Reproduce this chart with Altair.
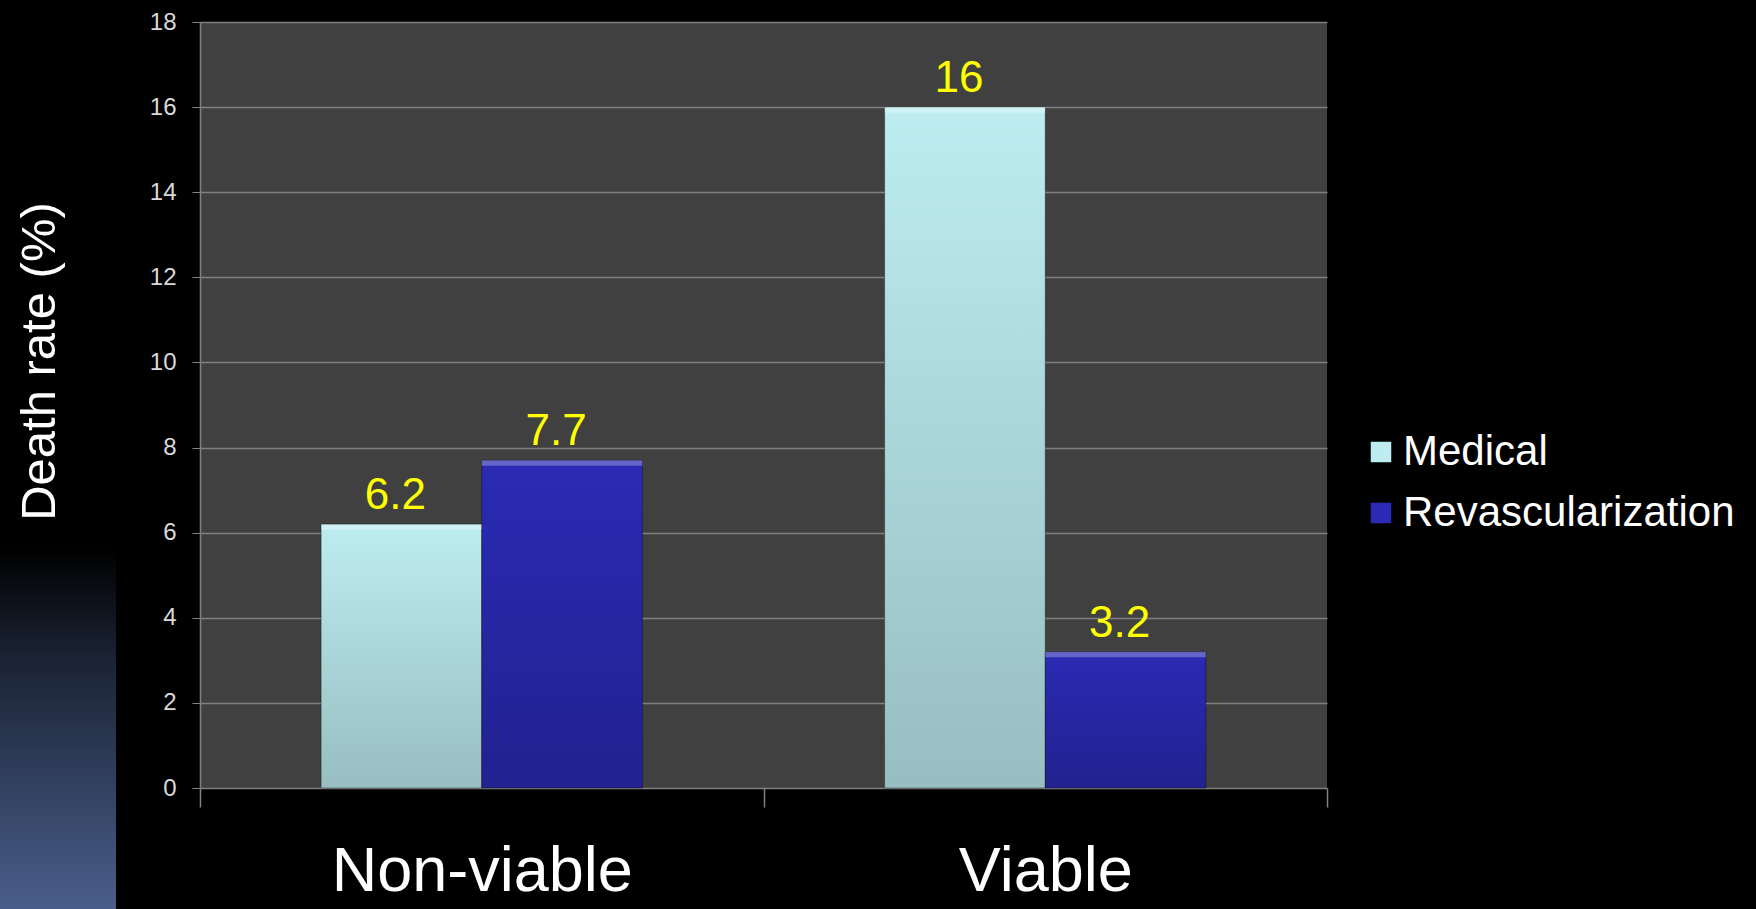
import altair as alt
import pandas as pd

categories = ["Non-viable", "Viable"]
groups = ["Medical", "Revascularization"]
medical = [6.2, 16]
revasc = [7.7, 3.2]
y_ticks = [0, 2, 4, 6, 8, 10, 12, 14, 16, 18]
group_colors = ["#bdedf0", "#2a2ab4"]

rows = []
for i, c in enumerate(categories):
    rows.append({"category": c, "group": groups[0], "value": medical[i]})
    rows.append({"category": c, "group": groups[1], "value": revasc[i]})
df = pd.DataFrame(rows)

FONT = "Liberation Sans"

x_enc = alt.X(
    "category:N",
    sort=categories,
    scale=alt.Scale(paddingInner=0, paddingOuter=0),
    axis=alt.Axis(
        title=None,
        labelFontSize=63,
        labelColor="#ffffff",
        labelFont=FONT,
        labelPadding=33,
        labelLimit=0,
        tickSize=19,
        tickColor="#808080",
        tickWidth=1.5,
        tickBand="extent",
        domain=False,
        labelAngle=0,
    ),
)
xoff = alt.XOffset(
    "group:N", sort=groups, scale=alt.Scale(paddingInner=0, paddingOuter=0.754)
)
y_enc = alt.Y(
    "value:Q",
    scale=alt.Scale(domain=[0, 18], nice=False),
    axis=alt.Axis(
        values=y_ticks,
        title="Death rate (%)",
        titleFontSize=49,
        titleFont=FONT,
        titleFontWeight="normal",
        titleColor="#ffffff",
        titleAngle=-90,
        titleX=-161,
        titleY=339,
        titleAlign="center",
        titleBaseline="middle",
        labelFontSize=24,
        labelFont=FONT,
        labelColor="#d9d9d9",
        labelPadding=16,
        tickSize=8,
        tickColor="#808080",
        domainColor="#808080",
        domainWidth=1.5,
        gridColor="#808080",
        gridWidth=1.5,
    ),
)

base = alt.Chart(df)

bars = base.mark_bar(stroke="#000000", strokeOpacity=0.35, strokeWidth=1).encode(
    x=x_enc,
    xOffset=xoff,
    y=y_enc,
    color=alt.Color(
        "group:N",
        sort=groups,
        scale=alt.Scale(domain=groups, range=group_colors),
        legend=alt.Legend(
            title=None,
            orient="none",
            legendX=1160,
            legendY=409,
            symbolType="square",
            symbolSize=420,
            symbolStrokeWidth=0,
            labelFontSize=42,
            labelFont=FONT,
            labelColor="#ffffff",
            labelOffset=1,
            labelLimit=0,
            rowPadding=19,
            padding=0,
        ),
    ),
)

shade = base.mark_bar(
    fill=alt.Gradient(
        gradient="linear",
        stops=[
            alt.GradientStop(color="rgba(0,0,0,0)", offset=0),
            alt.GradientStop(color="rgba(0,0,0,0.2)", offset=1),
        ],
        x1=0, y1=0, x2=0, y2=1,
    )
).encode(x="category:N", xOffset="group:N", y="value:Q")

highlight = base.transform_calculate(
    top2="datum.value - 0.13"
).mark_rect(fill="#ffffff", fillOpacity=0.28).encode(
    x="category:N", xOffset="group:N", y="value:Q", y2="top2:Q"
)

labels = base.mark_text(
    dy=-15, dx=-6, baseline="alphabetic", fontSize=44, font=FONT, color="#ffff00"
).encode(x="category:N", xOffset="group:N", y="value:Q", text=alt.Text("value:Q"))

strip = alt.Chart(pd.DataFrame({"a": [0]})).mark_rect(
    fill=alt.Gradient(
        gradient="linear",
        stops=[
            alt.GradientStop(color="#000000", offset=0),
            alt.GradientStop(color="#1a2233", offset=0.3),
            alt.GradientStop(color="#4a5f8c", offset=1),
        ],
        x1=0, y1=0, x2=0, y2=1,
    )
).encode(
    x=alt.value(-200), x2=alt.value(-84), y=alt.value(525), y2=alt.value(890)
)

chart = alt.layer(strip, bars, shade, highlight, labels).properties(
    width=1127,
    height=766,
    background="#000000",
    padding={"left": 200, "top": 22, "right": 429, "bottom": 121},
    autosize=alt.AutoSizeParams(type="none"),
).configure_view(fill="#404040", stroke=None)

chart.save("out.html", embed_options={"renderer": "svg", "actions": False})
